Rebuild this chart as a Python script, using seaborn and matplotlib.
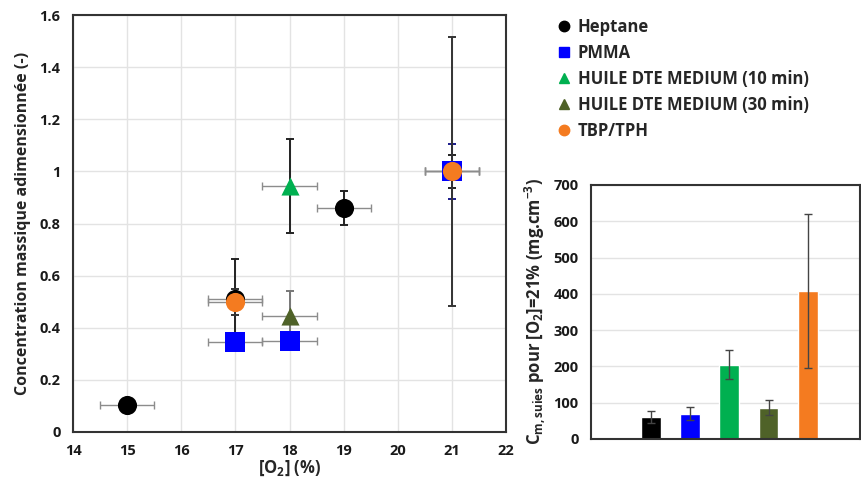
import numpy as np
import matplotlib
matplotlib.use("Agg")
import matplotlib.pyplot as plt
import seaborn as sns
import pandas as pd
from matplotlib.lines import Line2D

# séries du graphe de gauche : [O2] (%), concentration adimensionnée, barres d'erreur
heptane_x = [15, 17, 19, 21]
heptane_y = [0.105, 0.51, 0.86, 1.0]
heptane_yerr = [0.0, 0.155, 0.065, 0.065]

pmma_x = [17, 18, 21]
pmma_y = [0.345, 0.35, 1.0]
pmma_yerr = [0.0, 0.0, 0.105]

huile10_x = [18]
huile10_y = [0.945]
huile10_yerr = [0.18]

huile30_x = [18]
huile30_y = [0.445]
huile30_yerr = [0.095]

tbp_x = [17, 21]
tbp_y = [0.5, 1.0]
tbp_yerr = [0.05, 0.515]

o2_xerr = 0.5

# graphe de droite : Cm,suies pour [O2]=21 %
bar_names = ["Heptane", "PMMA", "HUILE DTE MEDIUM (10 min)",
             "HUILE DTE MEDIUM (30 min)", "TBP/TPH"]
bar_values = [60, 70, 205, 86, 407]
bar_err = [16, 18, 41, 21, 212]

colors = ["#000000", "#0000FF", "#00B050", "#4F6228", "#F47B20"]
markers = ["o", "s", "^", "^", "o"]
msizes = [190, 190, 170, 170, 190]

sns.set_style("white")
plt.rcParams["font.family"] = ["Open Sans", "DejaVu Sans"]
plt.rcParams["font.weight"] = "bold"
plt.rcParams["mathtext.fontset"] = "custom"
plt.rcParams["mathtext.rm"] = "Open Sans:bold"
plt.rcParams["mathtext.it"] = "Open Sans:bold"
plt.rcParams["mathtext.bf"] = "Open Sans:bold"

fig = plt.figure(figsize=(8.61, 4.83), dpi=100)
ax = fig.add_axes([0.0848, 0.1056, 0.503, 0.863])
ax2 = fig.add_axes([0.6864, 0.0911, 0.312, 0.526])

series = [
    ("Heptane", heptane_x, heptane_y, heptane_yerr, "#222222"),
    ("PMMA", pmma_x, pmma_y, pmma_yerr, "#1a1a8a"),
    ("HUILE DTE MEDIUM (10 min)", huile10_x, huile10_y, huile10_yerr, "#222222"),
    ("HUILE DTE MEDIUM (30 min)", huile30_x, huile30_y, huile30_yerr, "#777777"),
    ("TBP/TPH", tbp_x, tbp_y, tbp_yerr, "#333333"),
]

# barres d'erreur d'abord
for name, xs, ys, ye, ecol in series:
    ax.errorbar(xs, ys, xerr=o2_xerr, fmt="none", ecolor="#8c8c8c",
                elinewidth=1.0, capsize=3, capthick=1.0, zorder=2)
    ax.errorbar(xs, ys, yerr=ye, fmt="none", ecolor=ecol,
                elinewidth=1.4, capsize=3, capthick=1.4, zorder=2)

# marqueurs
for (name, xs, ys, ye, ecol), c, m, s in zip(series, colors, markers, msizes):
    df = pd.DataFrame({"x": xs, "y": ys})
    sns.scatterplot(data=df, x="x", y="y", color=c, marker=m, s=s,
                    linewidth=0, ax=ax, zorder=3)

ax.set_xlim(14, 22)
ax.set_ylim(0, 1.6)
ax.set_xticks(range(14, 23))
ax.set_yticks(np.arange(0, 1.61, 0.2))
ax.set_yticklabels(["0", "0.2", "0.4", "0.6", "0.8", "1", "1.2", "1.4", "1.6"])
ax.grid(True, color="#e3e3e3", linewidth=1.0)
ax.set_axisbelow(True)
for sp in ax.spines.values():
    sp.set_color("#333333")
    sp.set_linewidth(1.5)
ax.tick_params(length=0, labelsize=10.5, labelcolor="#1a1a1a", pad=9)
for lab in ax.get_xticklabels() + ax.get_yticklabels():
    lab.set_fontweight("bold")
ax.set_xlabel("[O$_{\\mathregular{2}}$] (%)", fontsize=12, fontweight="bold", labelpad=0)
ax.set_ylabel("Concentration massique adimensionnée (-)", fontsize=11.5,
              fontweight="bold", labelpad=6)

# légende
handles = [Line2D([], [], linestyle="none", marker=m, color=c, markersize=7.5)
           for c, m in zip(colors, markers)]
fig.legend(handles, bar_names, loc="upper left", bbox_to_anchor=(0.639, 0.98),
           frameon=False, handlelength=0.7, handletextpad=0.45,
           labelspacing=0.48, borderpad=0, prop={"weight": "bold", "size": 12})

# graphe en barres
bdf = pd.DataFrame({"name": bar_names, "value": bar_values})
sns.barplot(data=bdf, x="name", y="value", hue="name", palette=colors,
            saturation=1, width=0.5, legend=False, ax=ax2, zorder=2)
ax2.errorbar(range(len(bar_values)), bar_values, yerr=bar_err, fmt="none",
             ecolor="#444444", elinewidth=1.0, capsize=3, capthick=1.0, zorder=3)
ax2.set_xlim(-1.52, 5.32)
ax2.set_ylim(0, 700)
ax2.set_yticks(range(0, 701, 100))
ax2.set_xticks([])
ax2.set_xlabel("")
ax2.yaxis.grid(True, color="#e3e3e3", linewidth=1.0)
ax2.set_axisbelow(True)
for sp in ax2.spines.values():
    sp.set_color("#333333")
    sp.set_linewidth(1.5)
ax2.tick_params(length=0, labelsize=10.5, labelcolor="#1a1a1a", pad=9)
for lab in ax2.get_yticklabels():
    lab.set_fontweight("bold")
ax2.set_ylabel("C$_{\\mathregular{m,suies}}$ pour [O$_{\\mathregular{2}}$]=21% (mg.cm$^{\\mathregular{-3}}$)",
               fontsize=12, fontweight="bold", labelpad=4)

fig.savefig("out.png", dpi=100)
